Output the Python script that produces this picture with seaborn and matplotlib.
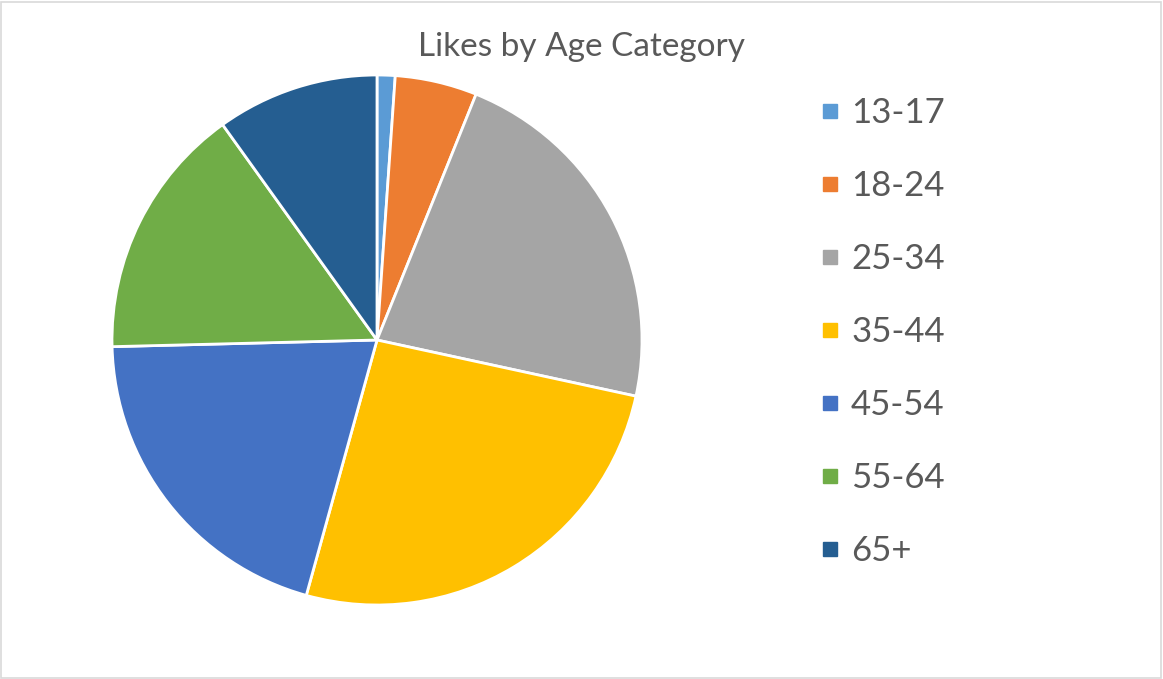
import matplotlib.pyplot as plt
import seaborn as sns
from matplotlib.lines import Line2D
from matplotlib.patches import Rectangle

# Data
age_groups = ['13-17', '18-24', '25-34', '35-44', '45-54', '55-64', '65+']
likes_share = [1.1, 5.0, 22.3, 25.9, 20.3, 15.5, 9.9]
office_colors = ['#5B9BD5', '#ED7D31', '#A5A5A5', '#FFC000', '#4472C4', '#70AD47', '#255E91']

# Style
sns.set_theme(style="white")
plt.rcParams['font.family'] = ['Lato', 'DejaVu Sans']
palette = sns.color_palette(office_colors)

fig = plt.figure(figsize=(11.63, 6.79), dpi=100)
fig.patch.set_facecolor('white')

# pie axes: centre ~ (377, 340) px, radius ~ 265 px
ax = fig.add_axes([112 / 1163, 74 / 679, 530 / 1163, 530 / 679])
wedges, _ = ax.pie(likes_share, colors=palette, startangle=90, counterclock=False,
                   radius=1, wedgeprops=dict(edgecolor='white', linewidth=2))
ax.set_xlim(-1.0, 1.0)
ax.set_ylim(-1.0, 1.0)
ax.set_aspect('equal')
ax.axis('off')

# Title
fig.text(582 / 1163, 1 - 47 / 679, 'Likes by Age Category', ha='center', va='center',
         fontsize=24, color='#595959')

# Legend
handles = [Line2D([0], [0], marker='s', linestyle='none', markersize=10,
                  markerfacecolor=c, markeredgecolor=c) for c in palette]
leg = fig.legend(handles, age_groups, loc='upper left', bbox_to_anchor=(806 / 1163, 1 - 83 / 679),
                 frameon=False, fontsize=25, labelcolor='#595959', handlelength=0.6,
                 handletextpad=0.3, labelspacing=1.18, borderaxespad=0)

# Chart border
fig.patches.append(Rectangle((0.001, 0.0015), 0.997, 0.996, transform=fig.transFigure,
                             fill=False, edgecolor='#D9D9D9', linewidth=1.2))

fig.savefig('out.png', dpi=100)
